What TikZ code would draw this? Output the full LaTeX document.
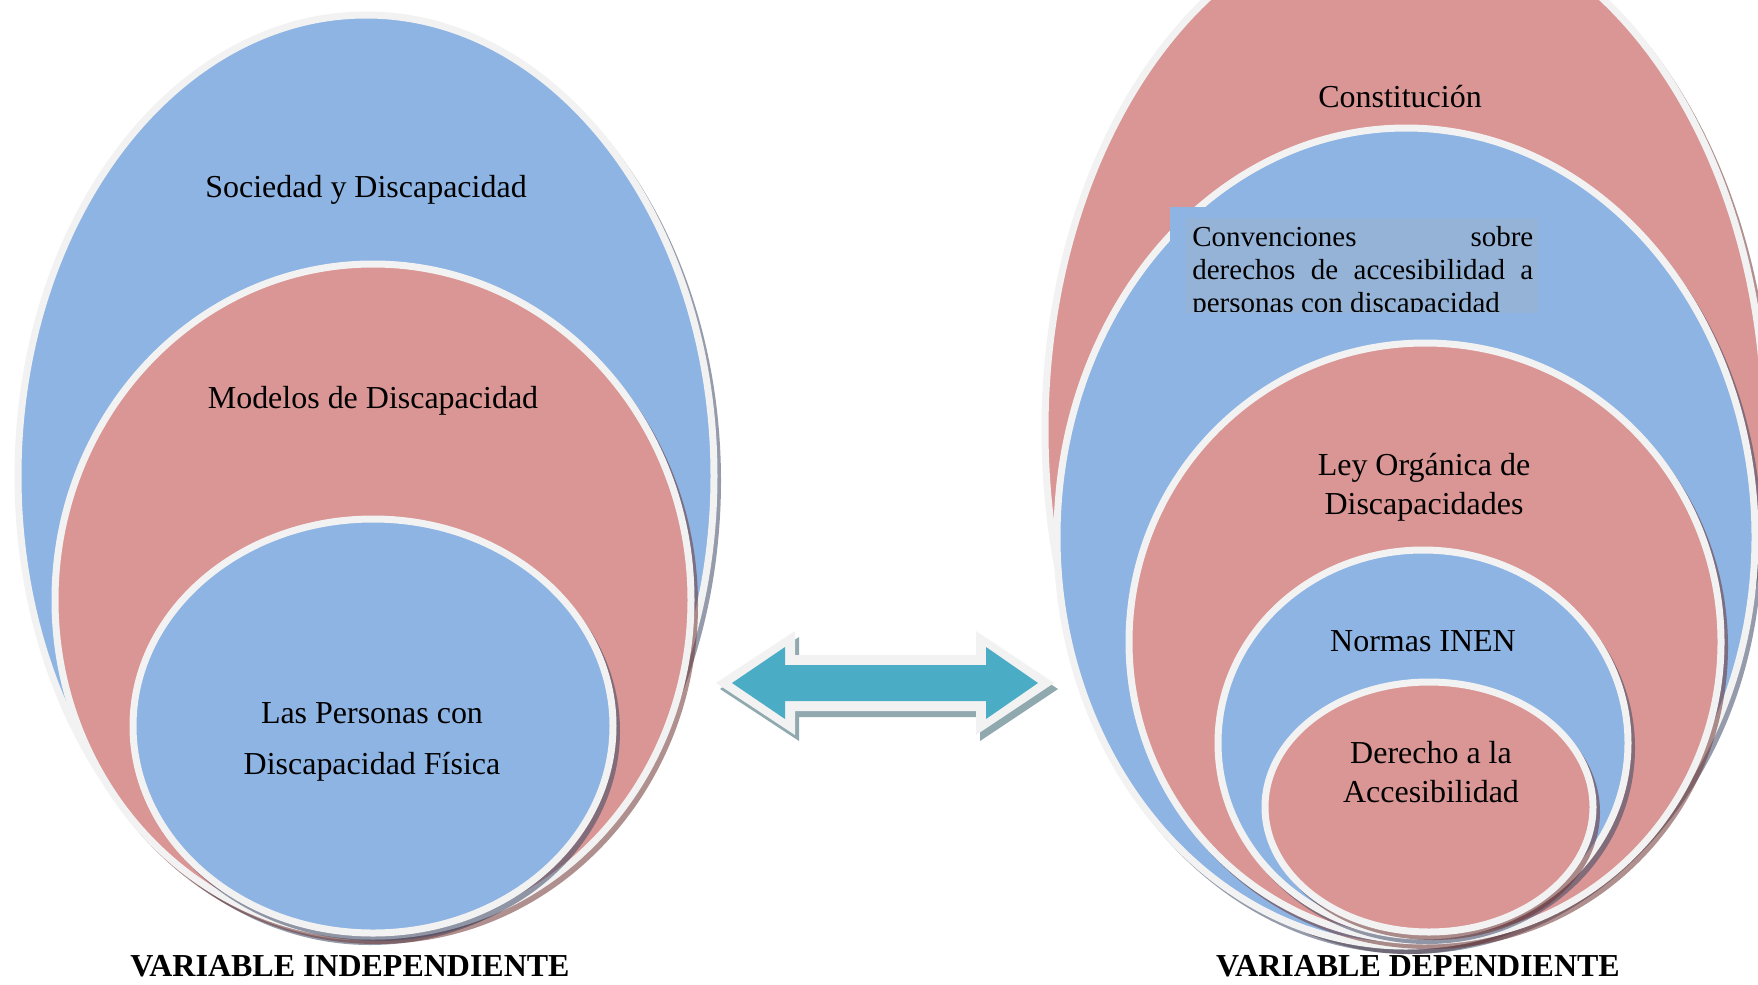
\documentclass[tikz,border=0pt]{standalone}
\usepackage{fontspec}
\setmainfont{Liberation Serif}
\definecolor{azul}{HTML}{8EB4E3}
\definecolor{rojo}{HTML}{D99694}
\definecolor{borde}{HTML}{F2F2F2}
\definecolor{sombraAz}{HTML}{3E4A66}
\definecolor{sombraRo}{HTML}{6E3534}
\definecolor{turquesa}{HTML}{4BACC6}
\definecolor{cajaAz}{HTML}{95B3D7}
\definecolor{sombraFl}{HTML}{8FA9AE}

\begin{document}
\begin{tikzpicture}[x=0.02cm, y=-0.02cm,
  capa/.style = {fill=#1, draw=borde, line width=0.14cm},
  txt/.style = {font=\fontsize{18.2}{22}\selectfont, align=center},
  titulo/.style = {font=\fontsize{18.2}{22}\selectfont\bfseries, anchor=base}]
	\clip (0,0) rectangle (1758,984);
	\fill[white] (0,0) rectangle (1758,984);
	\foreach \cx/\cy/\rx/\ry/\col/\sh in {366/476/348/461/azul/sombraAz, 373/600/318/336/rojo/sombraRo, 373/726/240/207/azul/sombraAz,
	  1405/430/360/516/rojo/sombraRo, 1406/537/349/409/azul/sombraAz, 1425/642/296/299/rojo/sombraRo,
	  1423/743/205/193/azul/sombraAz, 1429/807/164/125/rojo/sombraRo} {
		\fill[\sh, opacity=.55] (\cx+4,\cy+5) ellipse [x radius=\rx+3, y radius=\ry+3];
		\draw[capa=\col] (\cx,\cy) ellipse [x radius=\rx, y radius=\ry];
	}
	\node[txt] (sociedad) at (366,190) {Sociedad y Discapacidad};
	\node[txt] (modelos) at (373,401) {Modelos de Discapacidad};
	\node[txt, font=\fontsize{18.2}{29}\selectfont] (personas) at (372,742) {Las Personas con\\Discapacidad Física};
	\node[txt] (constitucion) at (1400,97) {Constitución};
	\fill[azul] (1170,207) rectangle (1545,318);
	\fill[cajaAz] (1186,218) rectangle (1538,313);
	\begin{scope}
		\clip (1186,218) rectangle (1538,311);
		\node[anchor=north west, inner sep=0, text width=6.82cm, align=justify, font=\fontsize{16.5}{18.7}\selectfont] (convenciones) at (1192,226)
		  {Convenciones sobre\linebreak derechos de accesibilidad a\linebreak personas con discapacidad};
	\end{scope}
	\node[txt] (ley) at (1424,487) {Ley Orgánica de\\Discapacidades};
	\node[txt] (normas) at (1423,641) {Normas INEN};
	\node[txt] (derecho) at (1431,772) {Derecho a la\\Accesibilidad};
	\node[titulo] (indep) at (350,976) {VARIABLE INDEPENDIENTE};
	\node[titulo] (dep) at (1418,976) {VARIABLE DEPENDIENTE};
	\begin{scope}[shift={(4,6)}]
		\fill[sombraFl] (716,683) -- (795,631) -- (795,655) -- (976,655) -- (976,631) -- (1054,683)
		  -- (976,735) -- (976,711) -- (795,711) -- (795,735) -- cycle;
	\end{scope}
	\fill[borde] (716,683) -- (795,631) -- (795,655) -- (976,655) -- (976,631) -- (1054,683)
	  -- (976,735) -- (976,711) -- (795,711) -- (795,735) -- cycle;
	\fill[turquesa] (732,683) -- (785,647) -- (785,665) -- (986,665) -- (986,647) -- (1038,683)
	  -- (986,719) -- (986,701) -- (785,701) -- (785,719) -- cycle;
\end{tikzpicture}
\end{document}
